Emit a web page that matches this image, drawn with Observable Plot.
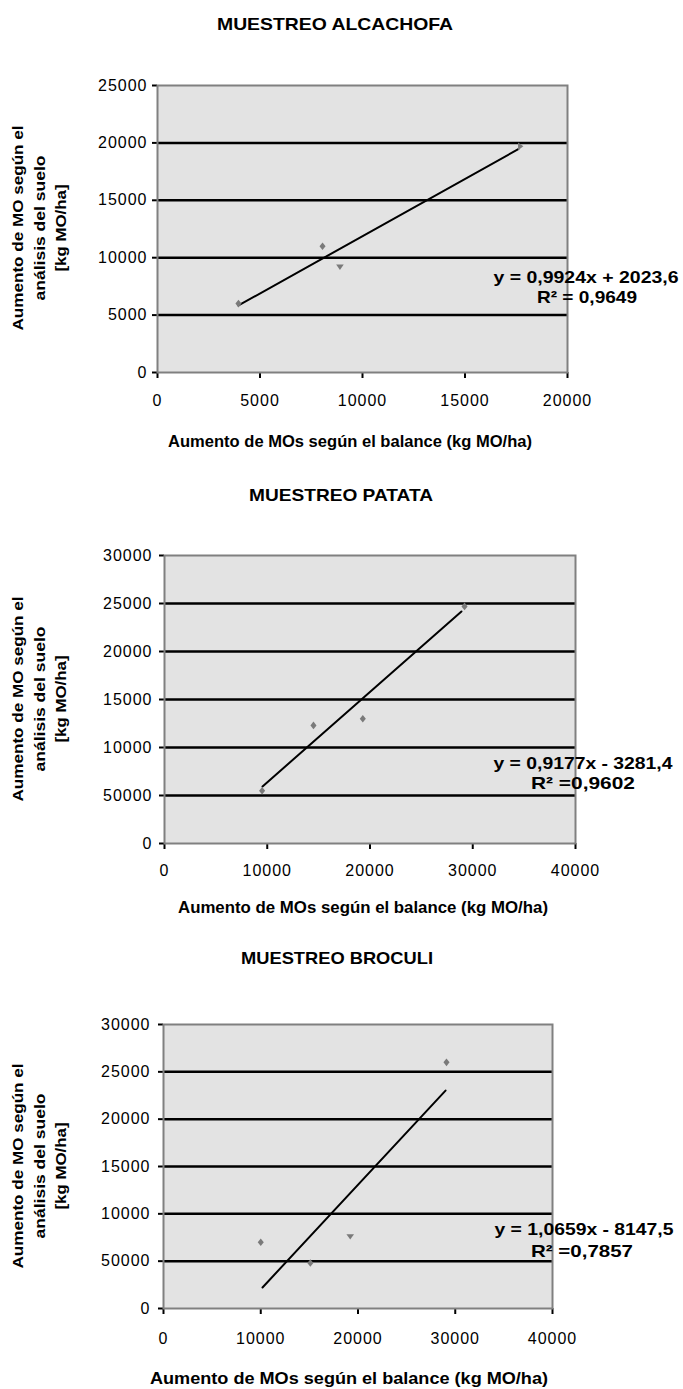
<!DOCTYPE html>
<html>
<head>
<meta charset="utf-8">
<script src="https://cdn.jsdelivr.net/npm/d3@7"></script>
<script src="https://cdn.jsdelivr.net/npm/@observablehq/plot@0.6"></script>
<style>
  html, body { margin: 0; padding: 0; background: #ffffff; }
  #wrap { position: relative; width: 683px; height: 1389px; overflow: hidden; font-family: "Liberation Sans", Arial, sans-serif; }
  #wrap svg.plotc { position: absolute; left: 0; }
  #wrap svg.plotc [aria-label$="tick label"] text, #wrap svg.plotc g[aria-label$="tick label"] { letter-spacing: 1px; }
  #wrap svg.plotc g[aria-label$="tick"] path { stroke-width: 2; }
  #overlay { position: absolute; left: 0; top: 0; }
</style>
</head>
<body>
<div id="wrap"></div>
<script>
// ---------- DATA ----------
const titles = ["MUESTREO ALCACHOFA", "MUESTREO PATATA", "MUESTREO BROCULI"];
const xAxisTitle = "Aumento de MOs según el balance (kg MO/ha)";
const yAxisTitleLines = ["Aumento de MO según el", "análisis del suelo", "[kg MO/ha]"];

// Alcachofa
const alcX = [3950, 8050, 8900, 17700];
const alcY = [6000, 11000, 9200, 19700];
const alcMarker = ["diamond", "diamond", "triangleDown", "triangleRight"];
const alcTrendX = [3950, 17600];
const alcTrendY = [5840, 19450];
const alcXTicks = [0, 5000, 10000, 15000, 20000];
const alcYTicks = [0, 5000, 10000, 15000, 20000, 25000];
const alcYTickLabels = ["0", "5000", "10000", "15000", "20000", "25000"];
const alcGrid = [5000, 10000, 15000, 20000];
const alcEquation = ["y = 0,9924x + 2023,6", "R² = 0,9649"];

// Patata
const patX = [9500, 14500, 19300, 29200];
const patY = [5500, 12300, 13000, 24700];
const patMarker = ["diamond", "diamond", "diamond", "diamond"];
const patTrendX = [9540, 28900];
const patTrendY = [5940, 24170];
const patXTicks = [0, 10000, 20000, 30000, 40000];
const patYTicks = [0, 5000, 10000, 15000, 20000, 25000, 30000];
const patYTickLabels = ["0", "50000", "10000", "15000", "20000", "25000", "30000"];
const patGrid = [5000, 10000, 15000, 20000, 25000];
const patEquation = ["y = 0,9177x - 3281,4", "R² =0,9602"];

// Broculi
const broX = [10000, 15100, 19200, 29100];
const broY = [7000, 4800, 7600, 26000];
const broMarker = ["diamond", "diamond", "triangleDown", "diamond"];
const broTrendX = [10180, 29000];
const broTrendY = [2220, 23020];
const broXTicks = [0, 10000, 20000, 30000, 40000];
const broYTicks = [0, 5000, 10000, 15000, 20000, 25000, 30000];
const broYTickLabels = ["0", "50000", "10000", "15000", "20000", "25000", "30000"];
const broGrid = [5000, 10000, 15000, 20000, 25000];
const broEquation = ["y = 1,0659x - 8147,5", "R² =0,7857"];

// ---------- SYMBOLS ----------
const symbols = {
  diamond: {
    draw(ctx, size) {
      const s = Math.sqrt(size / Math.PI);
      ctx.moveTo(0, -s); ctx.lineTo(s * 0.8, 0); ctx.lineTo(0, s); ctx.lineTo(-s * 0.8, 0); ctx.closePath();
    }
  },
  triangleDown: {
    draw(ctx, size) {
      const s = Math.sqrt(size / Math.PI);
      ctx.moveTo(-s, -s * 0.6); ctx.lineTo(s, -s * 0.6); ctx.lineTo(0, s * 0.8); ctx.closePath();
    }
  },
  triangleRight: {
    draw(ctx, size) {
      const s = Math.sqrt(size / Math.PI);
      ctx.moveTo(-s * 0.6, -s); ctx.lineTo(s * 0.8, 0); ctx.lineTo(-s * 0.6, s); ctx.closePath();
    }
  }
};

// ---------- CHARTS ----------
const charts = [
  { xs: alcX, ys: alcY, mk: alcMarker, tx: alcTrendX, ty: alcTrendY, xTicks: alcXTicks, yTicks: alcYTicks, yLabels: alcYTickLabels, grid: alcGrid,
    top: 0, height: 412, mt: 85, mb: 40, ml: 157, mr: 116, xPad: 16, yPad: 5 },
  { xs: patX, ys: patY, mk: patMarker, tx: patTrendX, ty: patTrendY, xTicks: patXTicks, yTicks: patYTicks, yLabels: patYTickLabels, grid: patGrid,
    top: 470, height: 413, mt: 85, mb: 40, ml: 164, mr: 108, xPad: 15, yPad: 7 },
  { xs: broX, ys: broY, mk: broMarker, tx: broTrendX, ty: broTrendY, xTicks: broXTicks, yTicks: broYTicks, yLabels: broYTickLabels, grid: broGrid,
    top: 940, height: 408, mt: 84, mb: 40, ml: 163, mr: 131, xPad: 18, yPad: 8 }
];

const wrap = document.getElementById("wrap");

charts.forEach(c => {
  const pts = c.xs.map((x, i) => ({ x, y: c.ys[i], m: c.mk[i] }));
  const trend = c.tx.map((x, i) => ({ x, y: c.ty[i] }));
  const markerNames = Array.from(new Set(c.mk));
  const dotMarks = markerNames.map(name =>
    Plot.dot(pts.filter(p => p.m === name), { x: "x", y: "y", r: 3.8, symbol: symbols[name], fill: "#7a7a7a", stroke: "none" })
  );
  const svg = Plot.plot({
    width: 683,
    height: c.height,
    marginTop: c.mt,
    marginBottom: c.mb,
    marginLeft: c.ml,
    marginRight: c.mr,
    style: { background: "transparent", color: "black", fontFamily: "'Liberation Sans', Arial, sans-serif", fontSize: "16px", overflow: "visible" },
    x: { domain: [c.xTicks[0], c.xTicks[c.xTicks.length - 1]], ticks: c.xTicks, tickSize: 6, tickPadding: c.xPad, label: null, tickFormat: d => String(d) },
    y: { domain: [c.yTicks[0], c.yTicks[c.yTicks.length - 1]], ticks: c.yTicks, tickSize: 5, tickPadding: c.yPad, label: null, tickFormat: d => c.yLabels[c.yTicks.indexOf(d)] },
    marks: [
      Plot.frame({ fill: "#e3e3e3", stroke: "none" }),
      Plot.ruleY(c.grid, { stroke: "black", strokeWidth: 2.5 }),
      Plot.line(trend, { x: "x", y: "y", stroke: "black", strokeWidth: 2 }),
      ...dotMarks,
      Plot.frame({ stroke: "#808080", strokeWidth: 2 })
    ]
  });
  svg.classList.add("plotc");
  svg.style.top = c.top + "px";
  wrap.appendChild(svg);
});

// ---------- TEXT OVERLAY ----------
const ov = d3.select(wrap).append("svg")
  .attr("id", "overlay")
  .attr("width", 683).attr("height", 1389)
  .style("font-family", "'Liberation Sans', Arial, sans-serif");

function txt(s, x, y, opts = {}) {
  const t = ov.append("text")
    .attr("x", x).attr("y", y)
    .attr("text-anchor", opts.anchor || "middle")
    .attr("font-size", opts.size || 16)
    .attr("font-weight", opts.weight || "bold")
    .attr("fill", "black")
    .text(s);
  if (opts.len) t.attr("textLength", opts.len).attr("lengthAdjust", opts.adjust || "spacingAndGlyphs");
  if (opts.rotate) t.attr("transform", `rotate(${opts.rotate} ${x} ${y})`);
  if (opts.baseline) t.attr("dominant-baseline", opts.baseline);
  return t;
}

// titles
txt(titles[0], 335, 30, { size: 17, len: 236 });
txt(titles[1], 341, 501, { size: 17, len: 184 });
txt(titles[2], 337, 964, { size: 17, len: 192 });

// x axis titles
txt(xAxisTitle, 350, 447, { size: 17, len: 364 });
txt(xAxisTitle, 363, 913, { size: 17, len: 370 });
txt(xAxisTitle, 349, 1384, { size: 17, len: 398 });

// y axis titles (rotated)
const yCenters = [228, 699, 1166];
const yCols = [17, 39, 60];
const yLens = [205, 145, 87];
yCenters.forEach(cy => {
  yAxisTitleLines.forEach((line, i) => {
    txt(line, yCols[i], cy, { size: 15, len: yLens[i], rotate: -90, baseline: "central" });
  });
});

// equations
const eqs = [alcEquation, patEquation, broEquation];
const eqPos = [
  { c1: 586, y1: 283, l1: 185, c2: 587, y2: 303, l2: 100 },
  { c1: 583, y1: 769, l1: 179, c2: 583, y2: 789, l2: 104 },
  { c1: 584, y1: 1235, l1: 179, c2: 582, y2: 1257, l2: 102 }
];
eqs.forEach((e, i) => {
  const p = eqPos[i];
  txt(e[0], p.c1, p.y1, { size: 17, len: p.l1 });
  txt(e[1], p.c2, p.y2, { size: 17, len: p.l2 });
});
</script>
</body>
</html>
